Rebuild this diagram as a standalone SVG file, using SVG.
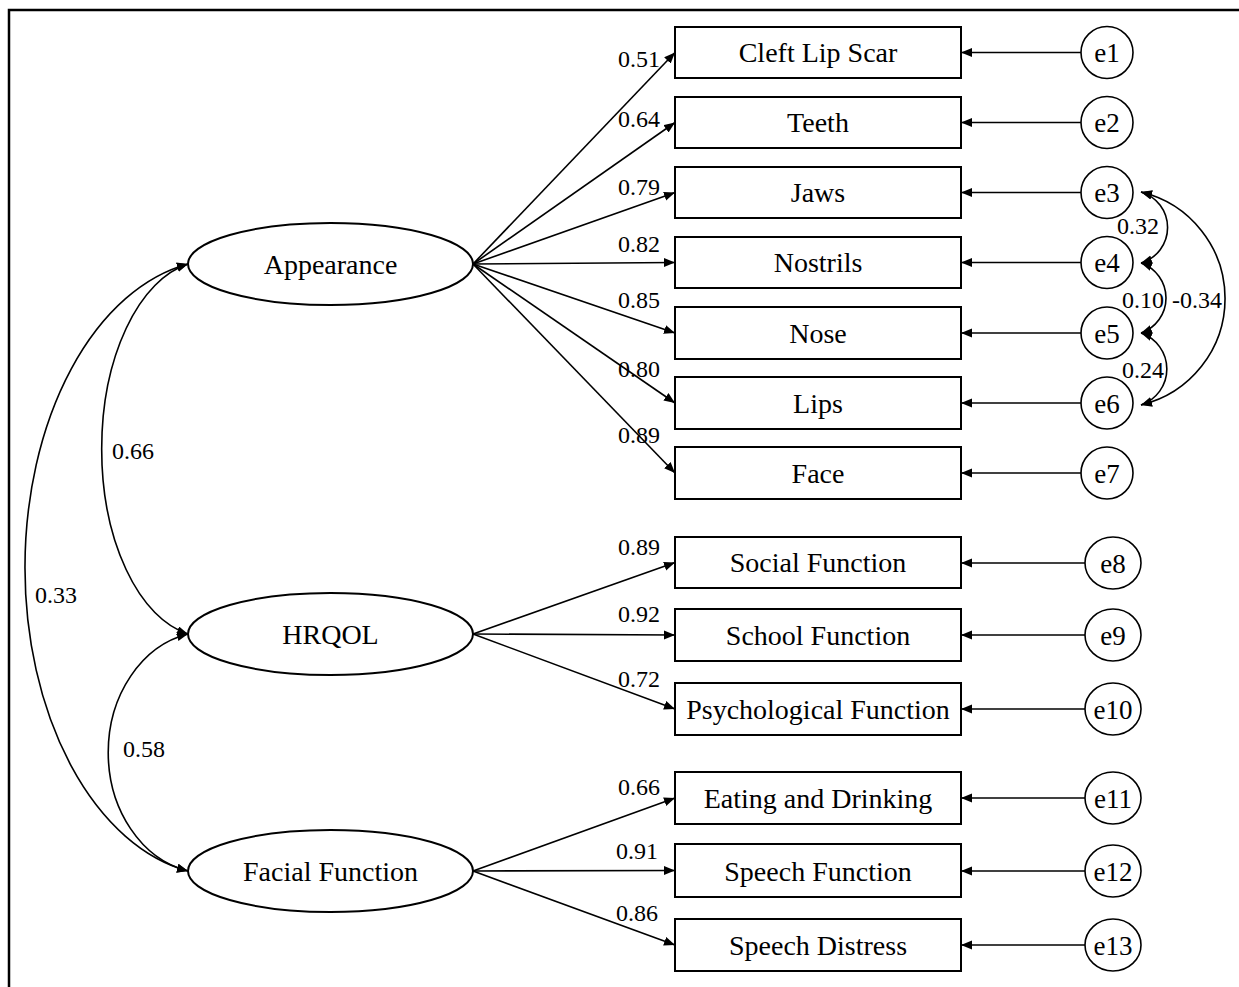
<svg xmlns="http://www.w3.org/2000/svg" width="1239" height="987" viewBox="0 0 1239 987">
<style>
.bx{fill:#fff;stroke:#000;stroke-width:2}
.el{fill:#fff;stroke:#000;stroke-width:2}
.er{fill:#fff;stroke:#000;stroke-width:1.6}
.ln{fill:none;stroke:#000;stroke-width:1.6}
.t{font-family:"Liberation Serif","Times New Roman",serif;font-size:28px;fill:#000;text-anchor:middle}
.te{font-family:"Liberation Serif","Times New Roman",serif;font-size:27px;fill:#000;text-anchor:middle}
.n{font-family:"Liberation Serif","Times New Roman",serif;font-size:24px;fill:#000}
.ne{text-anchor:end}
</style>
<defs>
<marker id="ah" markerUnits="userSpaceOnUse" markerWidth="12" markerHeight="10" refX="11" refY="4.5" orient="auto-start-reverse" viewBox="0 0 12 10">
<path d="M0,0 L11,4.5 L0,9 z" fill="#000"/>
</marker>
</defs>
<rect width="1239" height="987" fill="#fff"/>
<path d="M9,987 V10 H1239" fill="none" stroke="#000" stroke-width="2.5"/>

<g id="connectors">
<line class="ln" x1="473" y1="264" x2="675" y2="52.5" marker-end="url(#ah)"/>
<line class="ln" x1="473" y1="264" x2="675" y2="122.5" marker-end="url(#ah)"/>
<line class="ln" x1="473" y1="264" x2="675" y2="192.5" marker-end="url(#ah)"/>
<line class="ln" x1="473" y1="264" x2="675" y2="262.5" marker-end="url(#ah)"/>
<line class="ln" x1="473" y1="264" x2="675" y2="333" marker-end="url(#ah)"/>
<line class="ln" x1="473" y1="264" x2="675" y2="403" marker-end="url(#ah)"/>
<line class="ln" x1="473" y1="264" x2="675" y2="473" marker-end="url(#ah)"/>
<line class="ln" x1="473" y1="634" x2="675" y2="562.5" marker-end="url(#ah)"/>
<line class="ln" x1="473" y1="634" x2="675" y2="635" marker-end="url(#ah)"/>
<line class="ln" x1="473" y1="634" x2="675" y2="709" marker-end="url(#ah)"/>
<line class="ln" x1="473" y1="871" x2="675" y2="798" marker-end="url(#ah)"/>
<line class="ln" x1="473" y1="871" x2="675" y2="870.5" marker-end="url(#ah)"/>
<line class="ln" x1="473" y1="871" x2="675" y2="945" marker-end="url(#ah)"/>
<line class="ln" x1="1081" y1="52.5" x2="961" y2="52.5" marker-end="url(#ah)"/>
<line class="ln" x1="1081" y1="122.5" x2="961" y2="122.5" marker-end="url(#ah)"/>
<line class="ln" x1="1081" y1="192.5" x2="961" y2="192.5" marker-end="url(#ah)"/>
<line class="ln" x1="1081" y1="262.5" x2="961" y2="262.5" marker-end="url(#ah)"/>
<line class="ln" x1="1081" y1="333" x2="961" y2="333" marker-end="url(#ah)"/>
<line class="ln" x1="1081" y1="403" x2="961" y2="403" marker-end="url(#ah)"/>
<line class="ln" x1="1081" y1="473" x2="961" y2="473" marker-end="url(#ah)"/>
<line class="ln" x1="1085" y1="563" x2="961" y2="563" marker-end="url(#ah)"/>
<line class="ln" x1="1085" y1="635" x2="961" y2="635" marker-end="url(#ah)"/>
<line class="ln" x1="1085" y1="709" x2="961" y2="709" marker-end="url(#ah)"/>
<line class="ln" x1="1085" y1="798" x2="961" y2="798" marker-end="url(#ah)"/>
<line class="ln" x1="1085" y1="871" x2="961" y2="871" marker-end="url(#ah)"/>
<line class="ln" x1="1085" y1="945" x2="961" y2="945" marker-end="url(#ah)"/>
<path class="ln" d="M188,264 A105,188 0 0 0 188,634" marker-start="url(#ah)" marker-end="url(#ah)"/>
<path class="ln" d="M188,264 A196.5,308 0 0 0 188,871" marker-start="url(#ah)" marker-end="url(#ah)"/>
<path class="ln" d="M188,634 A100,121 0 0 0 188,871" marker-start="url(#ah)" marker-end="url(#ah)"/>
<path class="ln" d="M1141,192 A37,37 0 0 1 1141,263" marker-start="url(#ah)" marker-end="url(#ah)"/>
<path class="ln" d="M1141,263 A37,37 0 0 1 1141,333" marker-start="url(#ah)" marker-end="url(#ah)"/>
<path class="ln" d="M1141,333 A38,38 0 0 1 1141,405" marker-start="url(#ah)" marker-end="url(#ah)"/>
<path class="ln" d="M1141,192 A109.5,109.5 0 0 1 1141,405" marker-start="url(#ah)" marker-end="url(#ah)"/>
<text class="n ne" x="660" y="67">0.51</text>
<text class="n ne" x="660" y="127">0.64</text>
<text class="n ne" x="660" y="195">0.79</text>
<text class="n ne" x="660" y="252">0.82</text>
<text class="n ne" x="660" y="308">0.85</text>
<text class="n ne" x="660" y="377">0.80</text>
<text class="n ne" x="660" y="443">0.89</text>
<text class="n ne" x="660" y="555">0.89</text>
<text class="n ne" x="660" y="622">0.92</text>
<text class="n ne" x="660" y="687">0.72</text>
<text class="n ne" x="660" y="795">0.66</text>
<text class="n ne" x="658" y="859">0.91</text>
<text class="n ne" x="658" y="921">0.86</text>
<text class="n" x="112" y="459">0.66</text>
<text class="n" x="35" y="603">0.33</text>
<text class="n" x="123" y="757">0.58</text>
<text class="n" x="1117" y="234">0.32</text>
<text class="n" x="1122" y="308">0.10</text>
<text class="n" x="1122" y="378">0.24</text>
<text class="n" x="1172" y="308">-0.34</text>
</g>

<g id="appearance"><ellipse class="el" cx="330.5" cy="264" rx="142.5" ry="41"/><text class="t" x="330.5" y="274">Appearance</text></g>
<g id="hrqol"><ellipse class="el" cx="330.5" cy="634" rx="142.5" ry="41"/><text class="t" x="330.5" y="644">HRQOL</text></g>
<g id="facial"><ellipse class="el" cx="330.5" cy="871" rx="142.5" ry="41"/><text class="t" x="330.5" y="881">Facial Function</text></g>

<g id="cleft"><rect class="bx" x="675" y="27" width="286" height="51"/><text class="t" x="818" y="62">Cleft Lip Scar</text></g>
<g id="teeth"><rect class="bx" x="675" y="97" width="286" height="51"/><text class="t" x="818" y="132">Teeth</text></g>
<g id="jaws"><rect class="bx" x="675" y="167" width="286" height="51"/><text class="t" x="818" y="202">Jaws</text></g>
<g id="nostrils"><rect class="bx" x="675" y="237" width="286" height="51"/><text class="t" x="818" y="272">Nostrils</text></g>
<g id="nose"><rect class="bx" x="675" y="307" width="286" height="52"/><text class="t" x="818" y="343">Nose</text></g>
<g id="lips"><rect class="bx" x="675" y="377" width="286" height="52"/><text class="t" x="818" y="413">Lips</text></g>
<g id="face"><rect class="bx" x="675" y="447" width="286" height="52"/><text class="t" x="818" y="483">Face</text></g>
<g id="social"><rect class="bx" x="675" y="537" width="286" height="51"/><text class="t" x="818" y="572">Social Function</text></g>
<g id="school"><rect class="bx" x="675" y="609" width="286" height="52"/><text class="t" x="818" y="645">School Function</text></g>
<g id="psych"><rect class="bx" x="675" y="683" width="286" height="52"/><text class="t" x="818" y="719">Psychological Function</text></g>
<g id="eating"><rect class="bx" x="675" y="772" width="286" height="52"/><text class="t" x="818" y="808">Eating and Drinking</text></g>
<g id="speech"><rect class="bx" x="675" y="844" width="286" height="53"/><text class="t" x="818" y="881">Speech Function</text></g>
<g id="distress"><rect class="bx" x="675" y="919" width="286" height="52"/><text class="t" x="818" y="955">Speech Distress</text></g>

<g id="e1"><circle class="er" cx="1107" cy="52.5" r="26"/><text class="te" x="1107" y="62">e1</text></g>
<g id="e2"><circle class="er" cx="1107" cy="122.5" r="26"/><text class="te" x="1107" y="132">e2</text></g>
<g id="e3"><circle class="er" cx="1107" cy="192.5" r="26"/><text class="te" x="1107" y="202">e3</text></g>
<g id="e4"><circle class="er" cx="1107" cy="262.5" r="26"/><text class="te" x="1107" y="272">e4</text></g>
<g id="e5"><circle class="er" cx="1107" cy="333" r="26"/><text class="te" x="1107" y="342.5">e5</text></g>
<g id="e6"><circle class="er" cx="1107" cy="403" r="26"/><text class="te" x="1107" y="412.5">e6</text></g>
<g id="e7"><circle class="er" cx="1107" cy="473" r="26"/><text class="te" x="1107" y="482.5">e7</text></g>
<g id="e8"><ellipse class="er" cx="1113" cy="563" rx="28" ry="26"/><text class="te" x="1113" y="572.5">e8</text></g>
<g id="e9"><ellipse class="er" cx="1113" cy="635" rx="28" ry="26"/><text class="te" x="1113" y="644.5">e9</text></g>
<g id="e10"><ellipse class="er" cx="1113" cy="709" rx="28" ry="26"/><text class="te" x="1113" y="718.5">e10</text></g>
<g id="e11"><ellipse class="er" cx="1113" cy="798" rx="28" ry="26"/><text class="te" x="1113" y="807.5">e11</text></g>
<g id="e12"><ellipse class="er" cx="1113" cy="871" rx="28" ry="26"/><text class="te" x="1113" y="880.5">e12</text></g>
<g id="e13"><ellipse class="er" cx="1113" cy="945" rx="28" ry="26"/><text class="te" x="1113" y="954.5">e13</text></g>
</svg>
